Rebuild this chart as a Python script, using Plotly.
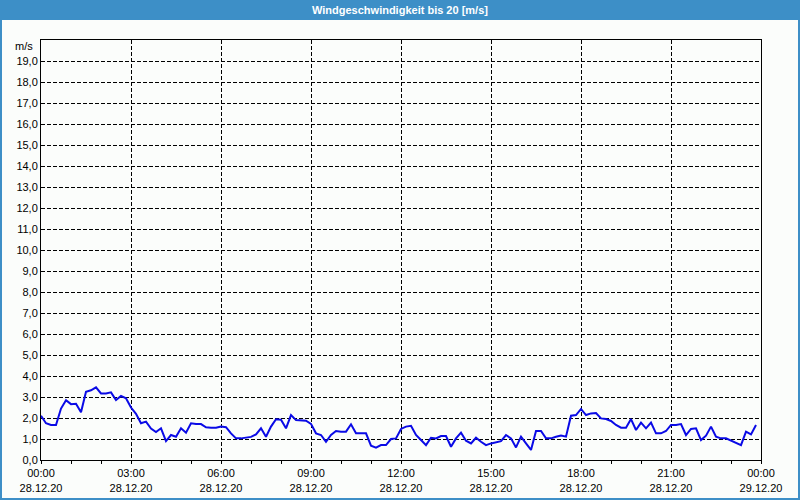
import pandas as pd
import plotly.graph_objects as go

# ---- data (10-minute readings, 28.12.20 00:00 .. 23:50) ----
start_time = "2020-12-28 00:00"
step_minutes = 10
wind_speed = [
    2.11, 1.75, 1.67, 1.67, 2.45, 2.85, 2.66, 2.68, 2.27, 3.25,
    3.32, 3.46, 3.17, 3.17, 3.22, 2.86, 3.05, 2.94, 2.50, 2.20,
    1.75, 1.83, 1.50, 1.33, 1.51, 0.90, 1.19, 1.11, 1.51, 1.30,
    1.75, 1.71, 1.71, 1.56, 1.54, 1.54, 1.59, 1.56, 1.27, 1.03,
    1.03, 1.08, 1.10, 1.22, 1.51, 1.11, 1.59, 1.94, 1.92, 1.51,
    2.14, 1.90, 1.87, 1.87, 1.72, 1.27, 1.19, 0.87, 1.19, 1.38,
    1.35, 1.35, 1.70, 1.27, 1.27, 1.27, 0.68, 0.59, 0.71, 0.71,
    1.00, 1.03, 1.48, 1.59, 1.63, 1.19, 0.95, 0.71, 1.06, 1.03,
    1.14, 1.14, 0.63, 1.03, 1.30, 0.92, 0.79, 1.06, 0.87, 0.71,
    0.79, 0.83, 0.90, 1.19, 1.03, 0.60, 1.11, 0.79, 0.48, 1.38,
    1.38, 1.03, 1.03, 1.11, 1.16, 1.11, 2.11, 2.14, 2.43, 2.14,
    2.22, 2.24, 1.98, 1.95, 1.86, 1.67, 1.54, 1.54, 1.95, 1.43,
    1.78, 1.51, 1.78, 1.27, 1.27, 1.38, 1.67, 1.67, 1.71, 1.19,
    1.48, 1.51, 0.95, 1.16, 1.59, 1.11, 1.03, 1.03, 0.92, 0.83,
    0.71, 1.35, 1.22, 1.67,
]
x_tick_times = ["2020-12-28 00:00", "2020-12-28 03:00", "2020-12-28 06:00",
                "2020-12-28 09:00", "2020-12-28 12:00", "2020-12-28 15:00",
                "2020-12-28 18:00", "2020-12-28 21:00", "2020-12-29 00:00"]
x_tick_labels = ["00:00<br>28.12.20", "03:00<br>28.12.20", "06:00<br>28.12.20",
                 "09:00<br>28.12.20", "12:00<br>28.12.20", "15:00<br>28.12.20",
                 "18:00<br>28.12.20", "21:00<br>28.12.20", "00:00<br>29.12.20"]
y_tick_vals = list(range(0, 20))
y_tick_labels = [f"{v},0" for v in y_tick_vals]
title_text = "Windgeschwindigkeit bis 20 [m/s]"
unit_text = "m/s"

times = pd.date_range(start_time, periods=len(wind_speed), freq=f"{step_minutes}min")

# ---- layout geometry ----
W, H = 800, 500
L, R, T, B = 41, 39, 40, 40
PW, PH = W - L - R, H - T - B
def px2x(px):
    return (px - L) / PW
def py2y(py):
    return (H - B - py) / PH

BLUE_HDR = "#3d8fc7"
BG = "#fbfdfb"
FONT = "Liberation Sans"

fig = go.Figure()
fig.add_trace(go.Scatter(
    x=times, y=wind_speed, mode="lines",
    line=dict(color="#0a0ae6", width=2),
    hoverinfo="skip", showlegend=False,
))

fig.update_layout(
    width=W, height=H, autosize=False,
    margin=dict(l=L, r=R, t=T, b=B, pad=0),
    paper_bgcolor=BG, plot_bgcolor=BG,
    font=dict(family=FONT, size=11, color="black"),
    showlegend=False,
    xaxis=dict(
        type="date", automargin=False,
        range=["2020-12-28 00:00", "2020-12-29 00:00"],
        tickmode="array", tickvals=x_tick_times, ticktext=x_tick_labels,
        ticks="outside", ticklen=3, tickcolor="black", tickwidth=1,
        showgrid=True, gridcolor="black", gridwidth=1, griddash="4px,2px",
        showline=True, linecolor="black", linewidth=1, mirror=True,
        zeroline=False,
        minor=dict(dtick=3600000, tick0="2020-12-28 00:00", ticks="outside",
                   ticklen=3, tickcolor="black", showgrid=False),
        tickfont=dict(family=FONT, size=11, color="black"),
        fixedrange=True,
    ),
    yaxis=dict(
        range=[0, 20], automargin=False,
        tickmode="array", tickvals=y_tick_vals, ticktext=y_tick_labels,
        ticks="", showgrid=True, gridcolor="black", gridwidth=1,
        griddash="4px,2px",
        showline=True, linecolor="black", linewidth=1, mirror=True,
        zeroline=False,
        tickfont=dict(family=FONT, size=11, color="black"),
        fixedrange=True,
    ),
    shapes=[
        dict(type="rect", xref="paper", yref="paper",
             x0=px2x(0), x1=px2x(800), y0=py2y(20), y1=py2y(0),
             fillcolor=BLUE_HDR, line=dict(width=0), layer="below"),
        dict(type="rect", xref="paper", yref="paper",
             x0=px2x(1), x1=px2x(799), y0=py2y(499), y1=py2y(1),
             fillcolor="rgba(0,0,0,0)", line=dict(color=BLUE_HDR, width=2)),
    ],
    annotations=[
        dict(text=f"<b>{title_text}</b>", xref="paper", yref="paper",
             x=px2x(400), y=py2y(10), xanchor="center", yanchor="middle",
             showarrow=False, font=dict(family=FONT, size=11, color="white")),
        dict(text=unit_text, xref="paper", yref="paper",
             x=px2x(35), y=py2y(46), xanchor="right", yanchor="middle",
             showarrow=False, font=dict(family=FONT, size=11, color="black")),
    ],
)

fig.write_html("out.html", config={"displayModeBar": False})
